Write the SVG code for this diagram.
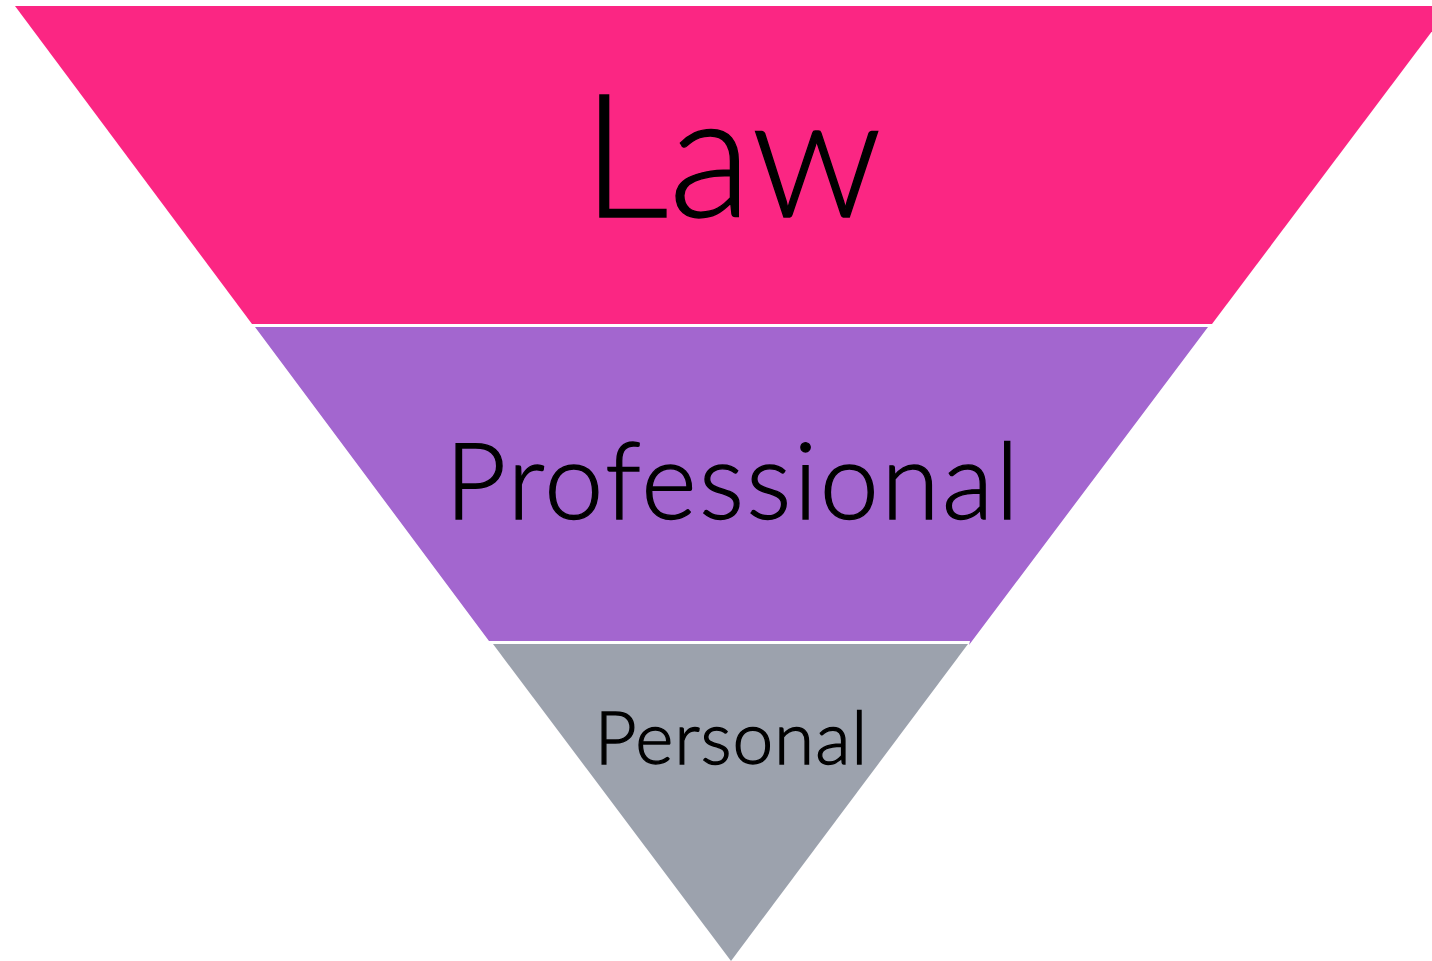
<svg xmlns="http://www.w3.org/2000/svg" width="1432" height="961" viewBox="0 0 1432 961">
<style>
  .lbl { font-family: Lato, "Open Sans", "Liberation Sans", sans-serif; font-weight: 300; fill: #000; stroke: #000; stroke-width: 1.3; text-anchor: middle; }
</style>
<rect width="1432" height="961" fill="#ffffff"/>
<g id="law">
  <polygon points="15,6 1451,6 1212,324 252,324" fill="#FB2683"/>
  <text class="lbl" x="732" y="217" font-size="171">Law</text>
</g>
<g id="professional">
  <polygon points="255,327 1208,327 969,645 970,641 489,641" fill="#A366CF"/>
  <text class="lbl" x="732" y="519" font-size="106" textLength="574">Professional</text>
</g>
<g id="personal">
  <polygon points="493,644 968,644 731,961" fill="#9CA2AD"/>
  <text class="lbl" x="731" y="764" font-size="73" textLength="273">Personal</text>
</g>
<g id="connectors"/>
</svg>
